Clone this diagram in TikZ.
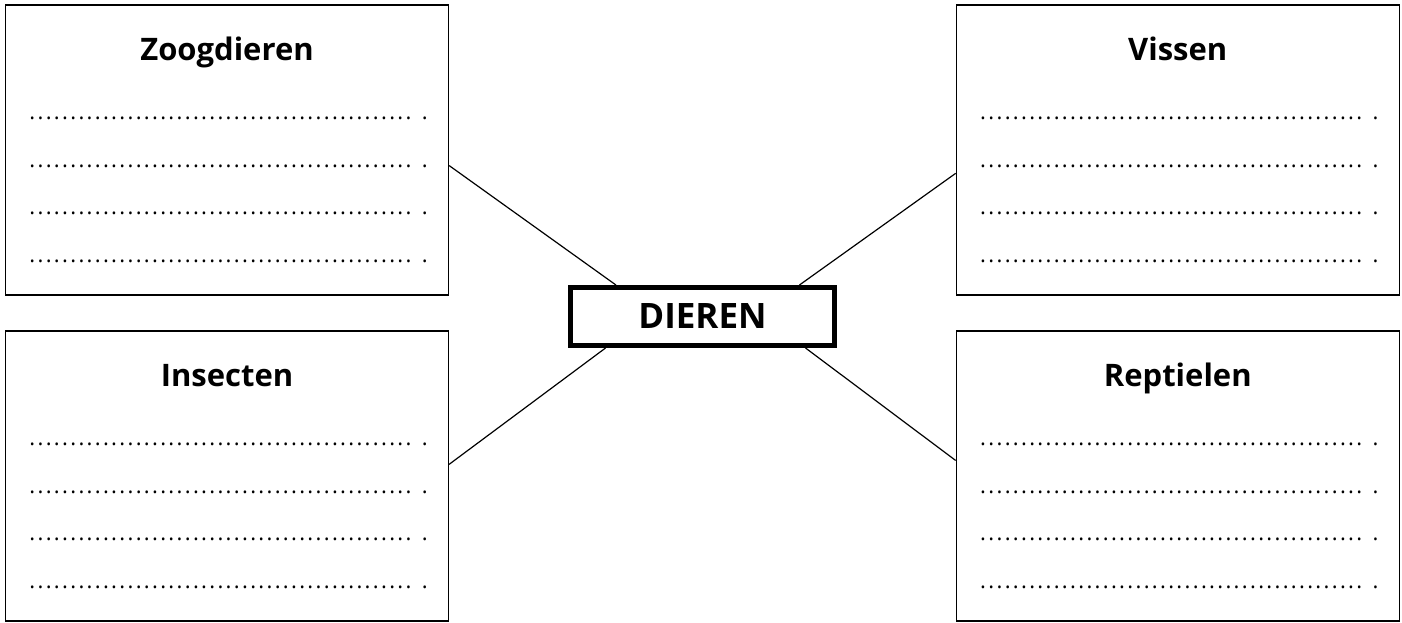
\documentclass[tikz,border=0pt]{standalone}
\usepackage{fontspec}
\setmainfont{Open Sans}
\usetikzlibrary{positioning}

\newcommand{\stippellijn}{\leaders\hbox to 4.09pt{\hss.\hss}\hskip 196.3pt\kern0.6pt.}

\begin{document}
\begin{tikzpicture}[x=0.5pt,y=0.5pt,
    vak/.style={draw, line width=0.6pt, minimum width=221.5pt, minimum height=145pt, inner sep=0pt},
    midden/.style={draw, line width=2.5pt, minimum width=132pt, minimum height=29pt, inner sep=0pt,
      font=\bfseries\fontsize{17.5}{21}\selectfont},
    kop/.style={anchor=base, inner sep=0pt, font=\bfseries\fontsize{15.5}{18}\selectfont},
    stip/.style={anchor=base west, inner sep=0pt, font=\fontsize{11}{13}\selectfont},
    lijn/.style={line width=0.6pt}]
    \useasboundingbox (0,0) rectangle (1402,622);

    % de vier vakken
    \node[vak] (zoo) at (227,472) {};
    \node[vak] (vis) at (1177.75,472) {};
    \node[vak] (ins) at (227,146) {};
    \node[vak] (rep) at (1177.75,146) {};

    % middelste vak
    \node[midden] (dieren) at (702.5,305.5) {DIEREN};

    % kopjes en stippellijnen
    \foreach \vak/\titel in {zoo/Zoogdieren, vis/Vissen, ins/Insecten, rep/Reptielen}{
        \node[kop] (\vak-kop) at ([yshift=-28pt]\vak.north) {\titel};
        \foreach \r in {0,...,3}
            \node[stip] (\vak-r\r) at ([xshift=11.5pt,yshift={-57.5pt-\r*23.83pt}]\vak.north west) {\stippellijn};
    }

    % verbindingen
    \draw[lijn] (zoo.-4.4) -- (dieren.160.8);
    \draw[lijn] (vis.-174.8) -- (dieren.18.4);
    \draw[lijn] (ins.3.6) -- (dieren.-162.1);
    \draw[lijn] (rep.176.4) -- (dieren.-17.9);
\end{tikzpicture}
\end{document}
